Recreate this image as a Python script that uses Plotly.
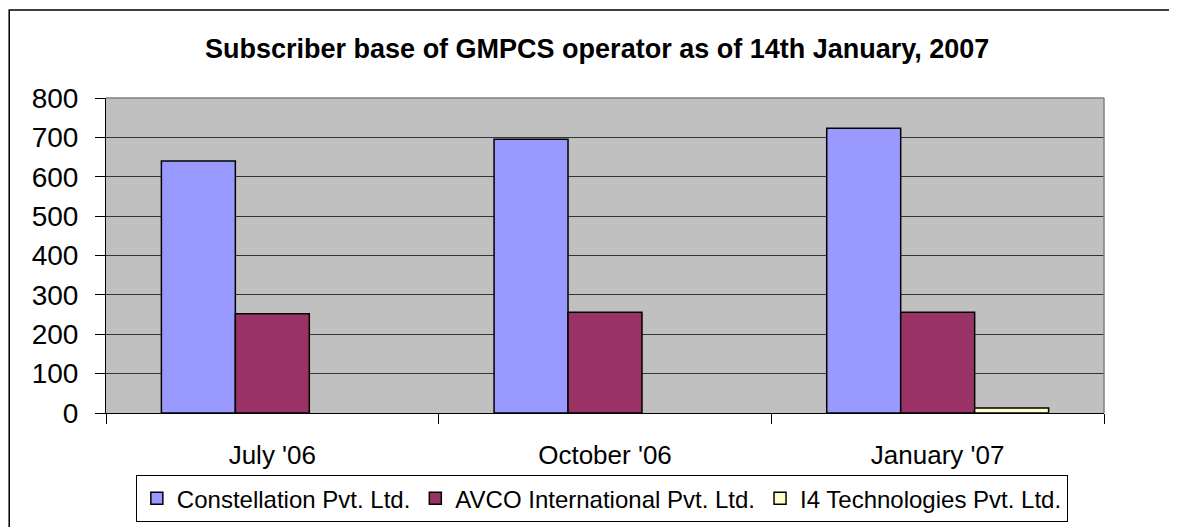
import plotly.graph_objects as go

months = ["July '06", "October '06", "January '07"]
constellation = [640, 695, 723]
avco = [252, 256, 256]
i4 = [None, None, 13]

fig = go.Figure()

fig.add_trace(go.Bar(x=months, y=constellation, name='Constellation Pvt. Ltd.',
                     marker=dict(color='#9999FF', line=dict(color='black', width=1.5))))
fig.add_trace(go.Bar(x=months, y=avco, name='AVCO International Pvt. Ltd.',
                     marker=dict(color='#993366', line=dict(color='black', width=1.5))))
fig.add_trace(go.Bar(x=months, y=i4, name='I4 Technologies Pvt. Ltd.',
                     marker=dict(color='#FFFFCC', line=dict(color='black', width=1.5))))

fig.update_layout(
    width=1169, height=519,
    margin=dict(l=98, r=73, t=90, b=114),
    paper_bgcolor='white',
    plot_bgcolor='#C0C0C0',
    barmode='group',
    bargap=0.333, bargroupgap=0,
    font=dict(family='Liberation Sans, Arial', color='black'),
    title=dict(text='<b>Subscriber base of GMPCS operator as of 14th January, 2007</b>',
               x=0.504, xanchor='center', y=0.921, yanchor='middle',
               font=dict(size=27)),
    xaxis=dict(type='category', showgrid=False, tickson='boundaries', ticks='outside',
               ticklen=10, tickcolor='black', showline=True, linecolor='black',
               tickfont=dict(size=26), ticklabelstandoff=19, automargin=False),
    yaxis=dict(range=[0, 800], dtick=100, showgrid=True, gridcolor='#333333', gridwidth=1,
               ticks='outside', ticklen=10, tickcolor='black', showline=True,
               linecolor='black', zeroline=False, tickfont=dict(size=28),
               ticklabelstandoff=11, automargin=False),
    legend=dict(orientation='h', x=0.508, xanchor='center', xref='container',
                y=0.1, yanchor='top', yref='container',
                bordercolor='black', borderwidth=1, font=dict(size=24),
                itemwidth=30, tracegroupgap=0),
    showlegend=True,
)

# grey border on top and right of plot area
fig.add_shape(type='line', xref='paper', yref='paper', x0=0, x1=1, y0=1, y1=1,
              line=dict(color='#808080', width=1.5))
fig.add_shape(type='line', xref='paper', yref='paper', x0=1, x1=1, y0=0, y1=1,
              line=dict(color='#808080', width=1.5))
# outer chart border
fig.add_shape(type='rect', xref='paper', yref='paper', x0=-0.097, x1=1.071, y0=-0.6, y1=1.279,
              line=dict(color='black', width=1.5), layer='below')

fig.write_html("out.html")
